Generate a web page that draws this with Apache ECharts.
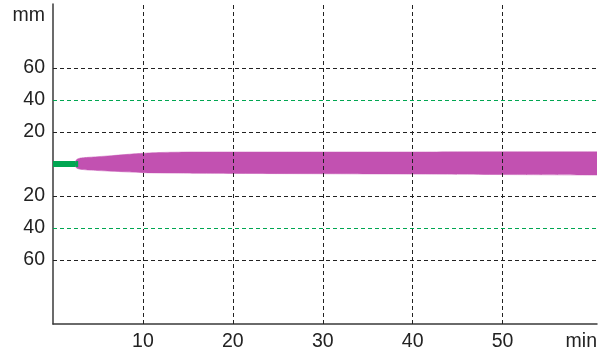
<!DOCTYPE html>
<html>
<head>
<meta charset="utf-8">
<script src="https://cdn.jsdelivr.net/npm/echarts@6/dist/echarts.min.js"></script>
<style>
	html, body { margin: 0; padding: 0; background: #fff; }
	#chart { width: 600px; height: 352px; }
</style>
</head>
<body>
<div id="chart"></div>
<script>
	// time in min, amplitude in mm
	const time = [2.5, 2.6, 2.9, 3.4, 4, 5, 6.5, 8, 10, 12, 14, 16, 20, 30, 40, 50, 60.5]
	const upper = [1.0, 2.6, 3.5, 3.9, 4.2, 4.6, 5.2, 5.9, 6.7, 7.2, 7.4, 7.5, 7.5, 7.5, 7.5, 7.6, 7.6]
	const lower = [-1.0, -2.4, -3.1, -3.5, -3.8, -4.1, -4.5, -4.9, -5.4, -5.6, -5.7, -5.8, -5.9, -6.1, -6.3, -6.6, -6.9]
	const greenTime = [0, 2.8]
	const greenValue = [0, 0]
	const xTicks = [10, 20, 30, 40, 50]
	const yTicks = [60, 40, 20, -20, -40, -60]
	const greenTicks = [40, -40]

	function initChart() {
		const chart = echarts.init(document.getElementById('chart'))
		const purple = '#c251b1'
		const green = '#00a651'
		const font = '"Liberation Sans", Arial, Helvetica, sans-serif'

		let gridLines = []
		xTicks.forEach(v => gridLines.push({ xAxis: v, lineStyle: { color: '#222' } }))
		yTicks.forEach(v => gridLines.push({
			yAxis: v,
			lineStyle: { color: greenTicks.indexOf(v) >= 0 ? green : '#222' }
		}))

		let option = {
			animation: false,
			grid: { left: 53, right: 3, top: 4, bottom: 28 },
			xAxis: {
				type: 'value',
				min: 0,
				max: 60.5,
				interval: 10,
				name: 'min',
				nameLocation: 'end',
				nameGap: 0,
				nameTextStyle: {
					color: '#222', fontSize: 19.5, fontFamily: font,
					align: 'right', verticalAlign: 'top', padding: [8, 0, 0, 0]
				},
				axisLine: { onZero: false, lineStyle: { color: '#3a3a3a', width: 1.5 } },
				axisTick: { show: false },
				splitLine: { show: false },
				axisLabel: {
					color: '#222', fontSize: 19.5, fontFamily: font, margin: 8,
					formatter: v => xTicks.indexOf(v) >= 0 ? String(v) : ''
				}
			},
			yAxis: {
				type: 'value',
				min: -100,
				max: 100,
				interval: 20,
				name: 'mm',
				nameLocation: 'end',
				nameGap: -12,
				nameTextStyle: {
					color: '#222', fontSize: 19.5, fontFamily: font,
					align: 'right', verticalAlign: 'middle', padding: [0, 8, 0, 0]
				},
				axisLine: { show: true, onZero: false, lineStyle: { color: '#3a3a3a', width: 1.5 } },
				axisTick: { show: false },
				splitLine: { show: false },
				axisLabel: {
					color: '#222', fontSize: 19.5, fontFamily: font, margin: 8,
					formatter: v => yTicks.indexOf(v) >= 0 ? String(Math.abs(v)) : ''
				}
			},
			series: [
				{
					// grid lines
					type: 'line',
					data: [],
					silent: true,
					markLine: {
						silent: true,
						symbol: 'none',
						label: { show: false },
						lineStyle: { type: [4, 3], width: 1 },
						data: gridLines
					}
				},
				{
					name: 'baseline',
					type: 'line',
					data: greenTime.map((t, i) => [t, greenValue[i]]),
					showSymbol: false,
					lineStyle: { color: green, width: 6 }
				},
				{
					name: 'upper',
					type: 'line',
					data: time.map((t, i) => [t, upper[i]]),
					smooth: 0.4,
					showSymbol: false,
					lineStyle: { width: 0.5, color: purple },
					areaStyle: { color: purple, opacity: 1 }
				},
				{
					name: 'lower',
					type: 'line',
					data: time.map((t, i) => [t, lower[i]]),
					smooth: 0.4,
					showSymbol: false,
					lineStyle: { width: 0.5, color: purple },
					areaStyle: { color: purple, opacity: 1 }
				}
			]
		}

		chart.setOption(option)
	}

	initChart()
</script>
</body>
</html>
